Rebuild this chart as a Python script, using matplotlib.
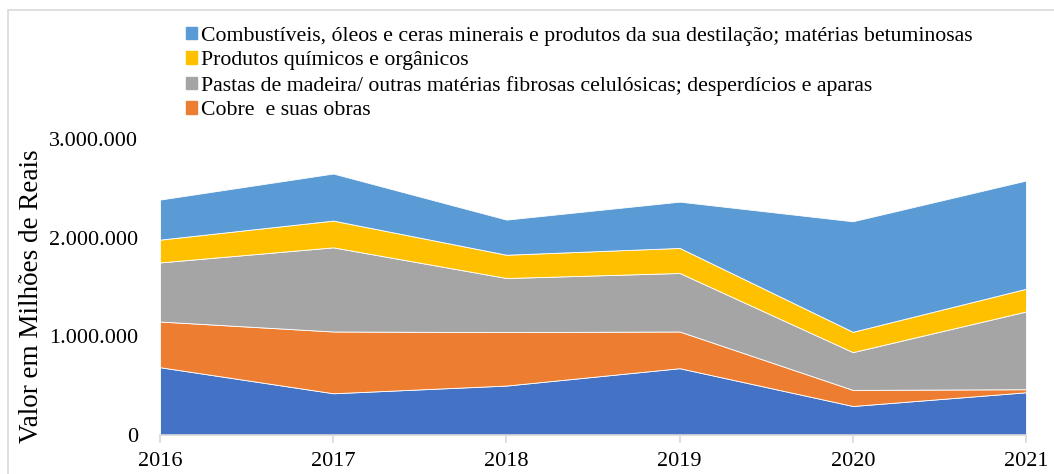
import matplotlib
matplotlib.use('Agg')
import matplotlib.pyplot as plt
from matplotlib.ticker import FuncFormatter
from matplotlib.patches import Rectangle, Patch

plt.rcParams['font.family'] = ['Liberation Serif', 'DejaVu Serif']

# anos e valores (em milhões de reais)
anos = [2016, 2017, 2018, 2019, 2020, 2021]
outros = [687000, 423000, 501000, 677000, 294000, 433000]
cobre = [463000, 626000, 542000, 372000, 163000, 31000]
pastas = [599000, 853000, 548000, 593000, 383000, 788000]
quimicos = [231000, 271000, 236000, 254000, 206000, 230000]
combustiveis = [406000, 477000, 356000, 469000, 1120000, 1097000]

nomes = [
    "Combustíveis, óleos e ceras minerais e produtos da sua destilação; matérias betuminosas",
    "Produtos químicos e orgânicos",
    "Pastas de madeira/ outras matérias fibrosas celulósicas; desperdícios e aparas",
    "Cobre  e suas obras",
]
cores = ['#4472C4', '#ED7D31', '#A5A5A5', '#FFC000', '#5B9BD5']

fig = plt.figure(figsize=(10.54, 4.74), dpi=100)
ax = fig.add_axes([160/1054, 1 - 435/474, (1026 - 160)/1054, (435 - 139)/474])

ax.stackplot(anos, outros, cobre, pastas, quimicos, combustiveis,
             colors=cores, edgecolor='white', linewidth=0.6)

ax.set_xlim(2016, 2021)
ax.set_ylim(0, 3000000)
ax.set_yticks([0, 1000000, 2000000, 3000000])
ax.yaxis.set_major_formatter(FuncFormatter(lambda v, p: f"{int(v):,}".replace(",", ".")))
ax.set_xticks(anos)

for s in ['top', 'right', 'left']:
    ax.spines[s].set_visible(False)
ax.spines['bottom'].set_color('#D9D9D9')
ax.spines['bottom'].set_linewidth(1.2)
ax.tick_params(axis='y', length=0, labelsize=16, pad=16)
ax.tick_params(axis='x', length=6, color='#D9D9D9', width=1.2, labelsize=16, pad=6)
ax.set_ylabel('Valor em Milhões de Reais', fontsize=19.5)
ax.yaxis.set_label_coords(-0.134, 0.47)

# legenda (a série de baixo não aparece na legenda)
handles = [Patch(color=cores[4]), Patch(color=cores[3]), Patch(color=cores[2]), Patch(color=cores[1])]
fig.legend(handles, nomes, loc='upper left', bbox_to_anchor=(186/1054, 1 - 27/474),
           frameon=False, fontsize=15.7, handlelength=0.5, handleheight=0.5,
           handletextpad=0.2, labelspacing=0.25, borderaxespad=0, borderpad=0)

# borda da área do gráfico
fig.patches.append(Rectangle((8/1054, -0.1), 1.2, 1 - 10/474 + 0.1, transform=fig.transFigure,
                             fill=False, edgecolor='#D9D9D9', linewidth=1.2))

fig.savefig('out.png', dpi=100)
